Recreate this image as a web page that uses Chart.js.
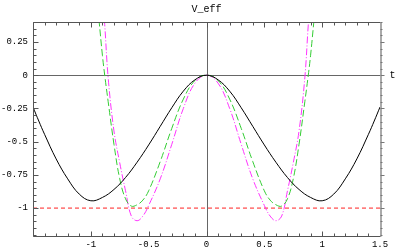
<!DOCTYPE html>
<html>
<head>
<meta charset="utf-8">
<script src="https://cdn.jsdelivr.net/npm/chart.js@4"></script>
<style>
  html, body { margin: 0; padding: 0; background: #fff; }
</style>
</head>
<body>
<canvas id="chart" width="400" height="250"></canvas>
<script>
// values
const tBlack = [-1.5, -1.45, -1.4, -1.3, -1.2, -1.1, -1, -0.9, -0.8, -0.7, -0.6, -0.5, -0.4, -0.3, -0.2, -0.1, 0,
                0.1, 0.2, 0.3, 0.4, 0.5, 0.6, 0.7, 0.8, 0.9, 1, 1.1, 1.2, 1.3, 1.4, 1.45, 1.5];
const vBlack = [-0.24, -0.345, -0.445, -0.63, -0.78, -0.895, -0.945, -0.92, -0.86, -0.77, -0.655, -0.525, -0.385, -0.245, -0.12, -0.035, 0,
                -0.035, -0.12, -0.245, -0.385, -0.525, -0.655, -0.77, -0.86, -0.92, -0.945, -0.895, -0.78, -0.63, -0.445, -0.345, -0.24];

const tGreen = [-0.93, -0.9, -0.88, -0.85, -0.8, -0.75, -0.7, -0.65, -0.6, -0.55, -0.5, -0.4, -0.3, -0.2, -0.1, 0,
                0.1, 0.2, 0.3, 0.4, 0.5, 0.55, 0.6, 0.65, 0.7, 0.75, 0.8, 0.85, 0.88, 0.9, 0.93];
const vGreen = [0.42, 0.15, 0, -0.2, -0.52, -0.78, -0.93, -0.985, -0.975, -0.94, -0.87, -0.65, -0.4, -0.18, -0.04, 0,
                -0.04, -0.18, -0.4, -0.65, -0.87, -0.94, -0.975, -0.985, -0.93, -0.78, -0.52, -0.2, 0, 0.15, 0.42];

const tMagenta = [-0.9, -0.88, -0.85, -0.8, -0.75, -0.7, -0.65, -0.6, -0.55, -0.5, -0.4, -0.3, -0.2, -0.1, 0,
                  0.1, 0.2, 0.3, 0.4, 0.5, 0.55, 0.6, 0.65, 0.7, 0.75, 0.8, 0.85, 0.88, 0.9];
const vMagenta = [0.6, 0.38, -0.02, -0.42, -0.66, -0.87, -1.06, -1.095, -1.06, -0.98, -0.78, -0.52, -0.25, -0.06, 0,
                  -0.06, -0.25, -0.52, -0.78, -0.98, -1.06, -1.095, -1.06, -0.87, -0.66, -0.42, -0.02, 0.38, 0.6];

const tRef = [-1.5, 1.5];
const vRef = [-1, -1];

const xLabels = [-1, -0.5, 0, 0.5, 1, 1.5];
const yLabels = [0.25, 0, -0.25, -0.5, -0.75, -1];

const monoFont = 'Liberation Mono, DejaVu Sans Mono, monospace';

function pts(xs, ys) {
    return xs.map((x, i) => ({ x: x, y: ys[i] }));
}

function isLabel(list, v) {
    return list.some(l => Math.abs(l - v) < 1e-6);
}

// frame, inward ticks, axes through the origin, axis name
const framePlugin = {
    id: 'frame',
    beforeDatasetsDraw(chart) {
        const ctx = chart.ctx, a = chart.chartArea;
        const xs = chart.scales.x, ys = chart.scales.y;
        ctx.save();
        ctx.strokeStyle = '#666';
        ctx.lineWidth = 1;
        const x0 = Math.round(xs.getPixelForValue(0)) + 0.5;
        const y0 = Math.round(ys.getPixelForValue(0)) + 0.5;
        ctx.beginPath();
        ctx.moveTo(x0, a.top); ctx.lineTo(x0, a.bottom);
        ctx.moveTo(a.left, y0); ctx.lineTo(a.right, y0);
        ctx.stroke();
        ctx.restore();
    },
    afterDraw(chart) {
        const ctx = chart.ctx, a = chart.chartArea;
        const xs = chart.scales.x, ys = chart.scales.y;
        ctx.save();
        ctx.lineWidth = 1;
        ctx.strokeStyle = '#555';
        const L = Math.round(a.left) + 0.5, R = Math.round(a.right) + 0.5;
        const T = Math.round(a.top) + 0.5, B = Math.round(a.bottom) + 0.5;
        ctx.beginPath();
        ctx.moveTo(L, T); ctx.lineTo(R, T);
        ctx.moveTo(L, T); ctx.lineTo(L, B); ctx.lineTo(R, B);
        ctx.stroke();

        // x ticks every 0.1 on top and bottom
        ctx.beginPath();
        for (let k = -15; k <= 15; k++) {
            const v = k / 10;
            const px = Math.round(xs.getPixelForValue(v)) + 0.5;
            const len = (k % 5 === 0) ? 5 : 3;
            ctx.moveTo(px, B); ctx.lineTo(px, B - len);
            ctx.moveTo(px, T); ctx.lineTo(px, T + len);
        }
        // y ticks every 0.05 on the left
        for (let k = -24; k <= 8; k++) {
            const v = k / 20;
            const py = Math.round(ys.getPixelForValue(v)) + 0.5;
            const len = (k % 5 === 0) ? 5 : 3;
            ctx.moveTo(L, py); ctx.lineTo(L + len, py);
        }
        ctx.stroke();

        // right frame, grey
        ctx.strokeStyle = '#aaa';
        ctx.lineWidth = 2;
        ctx.beginPath();
        ctx.moveTo(R + 0.5, T); ctx.lineTo(R + 0.5, B);
        ctx.stroke();
        ctx.strokeStyle = '#777';
        ctx.lineWidth = 1;
        ctx.beginPath();
        for (let k = -24; k <= 8; k++) {
            const py = Math.round(ys.getPixelForValue(k / 20)) + 0.5;
            const len = (k % 5 === 0) ? 4 : 2;
            ctx.moveTo(R, py); ctx.lineTo(R + len, py);
        }
        ctx.stroke();

        ctx.fillStyle = '#000';
        ctx.font = '10px ' + monoFont;
        ctx.textAlign = 'left';
        ctx.textBaseline = 'middle';
        ctx.fillText('t', R + 9, ys.getPixelForValue(0));
        ctx.restore();
    }
};

new Chart(document.getElementById('chart'), {
    type: 'line',
    data: {
        datasets: [
            {
                label: 'black',
                data: pts(tBlack, vBlack),
                borderColor: '#000',
                borderWidth: 1,
                pointRadius: 0,
                tension: 0.4
            },
            {
                label: 'green',
                data: pts(tGreen, vGreen),
                borderColor: '#33cc33',
                borderWidth: 1,
                borderDash: [7, 3],
                pointRadius: 0,
                tension: 0.4
            },
            {
                label: 'magenta',
                data: pts(tMagenta, vMagenta),
                borderColor: '#ff33ff',
                borderWidth: 1,
                borderDash: [7, 2, 1, 2],
                pointRadius: 0,
                tension: 0.4
            },
            {
                label: 'ref',
                data: pts(tRef, vRef),
                borderColor: '#ff2222',
                borderWidth: 1,
                borderDash: [4, 3],
                pointRadius: 0
            }
        ]
    },
    options: {
        responsive: false,
        animation: false,
        maintainAspectRatio: false,
        layout: { padding: { top: 0, right: 20, left: 0, bottom: 0 } },
        scales: {
            x: {
                type: 'linear',
                min: -1.5,
                max: 1.5,
                afterFit: s => { s.height = 14; },
                grid: { display: false, drawTicks: false },
                border: { display: false },
                ticks: {
                    stepSize: 0.5,
                    padding: 3,
                    color: '#000',
                    font: { family: monoFont, size: 9 },
                    maxRotation: 0,
                    autoSkip: false,
                    callback: v => isLabel(xLabels, v) ? String(+v.toFixed(2)) : ''
                }
            },
            y: {
                type: 'linear',
                min: -1.21,
                max: 0.4,
                afterFit: s => { s.width = 33; },
                grid: { display: false, drawTicks: false },
                border: { display: false },
                ticks: {
                    stepSize: 0.25,
                    padding: 5,
                    color: '#000',
                    font: { family: monoFont, size: 9 },
                    autoSkip: false,
                    callback: v => isLabel(yLabels, v) ? String(+v.toFixed(2)) : ''
                }
            }
        },
        plugins: {
            legend: { display: false },
            tooltip: { enabled: false },
            title: {
                display: true,
                text: 'V_eff',
                color: '#000',
                fullSize: false,
                font: { family: monoFont, size: 10, weight: 'normal' },
                padding: { top: 3, bottom: 7 }
            }
        }
    },
    plugins: [framePlugin]
});
</script>
</body>
</html>
